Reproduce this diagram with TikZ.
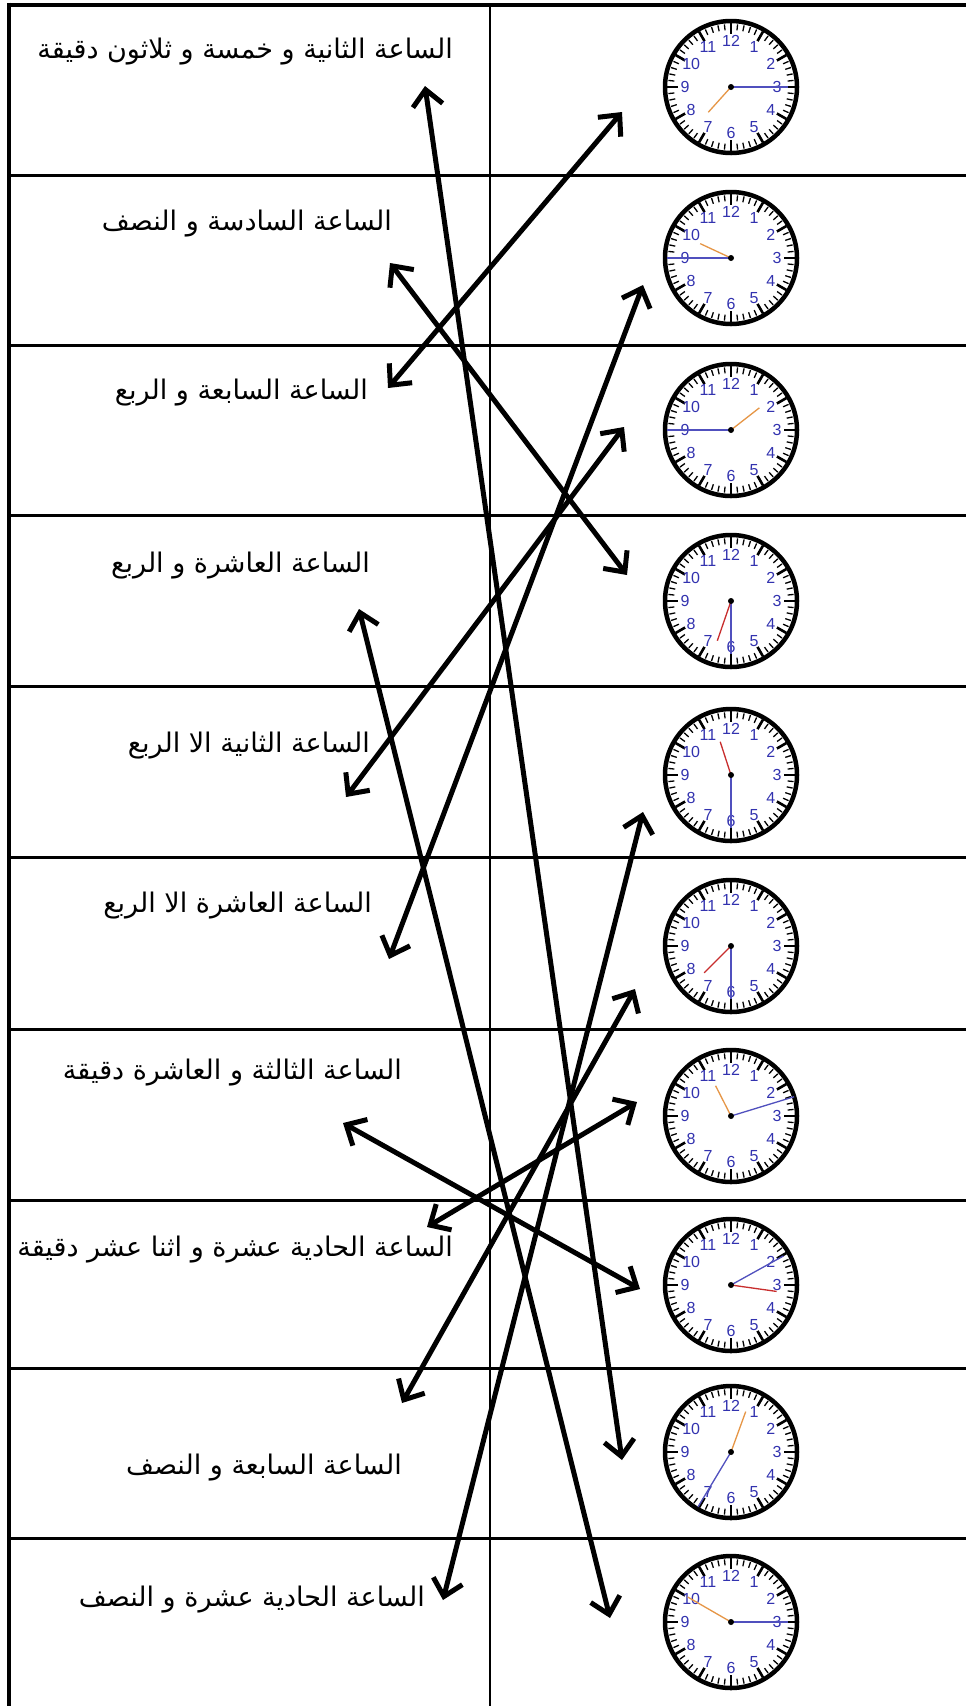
\documentclass[tikz,border=0pt]{standalone}
\usepackage{fontspec}
\usetikzlibrary{arrows.meta}
\TeXXeTstate=1
\newfontfamily\arabicfont[Script=Arabic]{DejaVu Sans}
\newfontfamily\numfont{Liberation Sans}
\definecolor{numblue}{RGB}{50,50,175}
\definecolor{minblue}{RGB}{80,80,190}
\definecolor{hourorange}{RGB}{230,150,70}
\definecolor{hourred}{RGB}{200,45,45}
\tikzset{
  pics/clock/.style n args={5}{code={
    \fill[white] (0,0) circle (66pt);
    \foreach \a in {0,6,...,354}
      \draw[line width=1.3pt] ({63*sin(\a)},{-63*cos(\a)}) -- ({57*sin(\a)},{-57*cos(\a)});
    \foreach \a in {0,30,...,330}
      \draw[line width=2.6pt] ({64*sin(\a)},{-64*cos(\a)}) -- ({53*sin(\a)},{-53*cos(\a)});
    \draw[line width=4.5pt] (0,0) circle (66pt);
    \foreach \n in {1,...,12}
      \node[numblue, font=\numfont\fontsize{16}{16}\selectfont, inner sep=0pt]
        at ({46*sin(30*\n)},{-46*cos(30*\n)}) {\n};
    \draw[minblue, line width=1.3pt] (0,0) -- ({#2*sin(#1)},{-#2*cos(#1)});
    \draw[#5, line width=1.3pt] (0,0) -- ({#4*sin(#3)},{-#4*cos(#3)});
    \fill (0,0) circle (3pt);
  }},
  lbl/.style={anchor=east, inner sep=0pt, font=\arabicfont\fontsize{27}{31}\selectfont},
  conn/.style={line width=5pt, line cap=round,
    {Straight Barb[length=16pt,width=30pt]}-{Straight Barb[length=16pt,width=30pt]}},
  rowline/.style={line width=3pt},
}
\begin{document}
\begin{tikzpicture}[x=1pt,y=-1pt]
\useasboundingbox (0,0) rectangle (966,1706);
\fill[white] (0,0) rectangle (966,1706);
% table
\draw[line width=4pt] (9,2.5) -- (9,1706);
\draw[line width=4pt] (7,4.5) -- (966,4.5);
\foreach \y in {175,345,515,686,857,1029,1200,1368,1538}
  \draw[rowline] (7,\y) -- (966,\y);
\draw[line width=2.5pt] (490,4) -- (490,1706);
% clocks: minute angle, minute length, hour angle, hour length, hour colour
\pic (c1) at (731,87) {clock={90}{57}{222}{34}{hourorange}};
\pic (c2) at (731,258) {clock={270}{64}{295}{34}{hourorange}};
\pic (c3) at (731,430) {clock={270}{64}{52}{36}{hourorange}};
\pic (c4) at (731,601) {clock={180}{53}{199}{42}{hourred}};
\pic (c5) at (731,775) {clock={180}{53}{342}{35}{hourred}};
\pic (c6) at (731,946) {clock={180}{53}{225}{38}{hourred}};
\pic (c7) at (731,1116) {clock={73}{66}{333}{34}{hourorange}};
\pic (c8) at (731,1285) {clock={61}{60}{98}{46}{hourred}};
\pic (c9) at (731,1452) {clock={211}{64}{20}{43}{hourorange}};
\pic (c10) at (731,1622) {clock={90}{57}{300}{50}{hourorange}};
% texts
\node[lbl] (t1) at (453,52) {\beginR الساعة الثانية و خمسة و ثلاثون دقيقة\endR};
\node[lbl] (t2) at (392,224) {\beginR الساعة السادسة و النصف\endR};
\node[lbl] (t3) at (368,393) {\beginR الساعة السابعة و الربع\endR};
\node[lbl] (t4) at (370,566) {\beginR الساعة العاشرة و الربع\endR};
\node[lbl] (t5) at (370,746) {\beginR الساعة الثانية الا الربع\endR};
\node[lbl] (t6) at (372,906) {\beginR الساعة العاشرة الا الربع\endR};
\node[lbl] (t7) at (402,1073) {\beginR الساعة الثالثة و العاشرة دقيقة\endR};
\node[lbl] (t8) at (453,1250) {\beginR الساعة الحادية عشرة و اثنا عشر دقيقة\endR};
\node[lbl] (t9) at (402,1468) {\beginR الساعة السابعة و النصف\endR};
\node[lbl] (t10) at (425,1600) {\beginR الساعة الحادية عشرة و النصف\endR};
% connector end points
\coordinate (a1s) at (425,86);   \coordinate (a1e) at (622,1460);
\coordinate (a2s) at (622,112);  \coordinate (a2e) at (388,388);
\coordinate (a3s) at (390,263);  \coordinate (a3e) at (627,575);
\coordinate (a4s) at (643,285);  \coordinate (a4e) at (389,959);
\coordinate (a5s) at (624,427);  \coordinate (a5e) at (346,797);
\coordinate (a6s) at (359,609);  \coordinate (a6e) at (610,1618);
\coordinate (a7s) at (643,812);  \coordinate (a7e) at (443,1600);
\coordinate (a8s) at (635,989);  \coordinate (a8e) at (402,1403);
\coordinate (a9s) at (637,1102); \coordinate (a9e) at (427,1227);
\coordinate (a10s) at (343,1123); \coordinate (a10e) at (640,1289);
\foreach \k in {1,...,10}
  \draw[conn] (a\k s) -- (a\k e);
\end{tikzpicture}
\end{document}
